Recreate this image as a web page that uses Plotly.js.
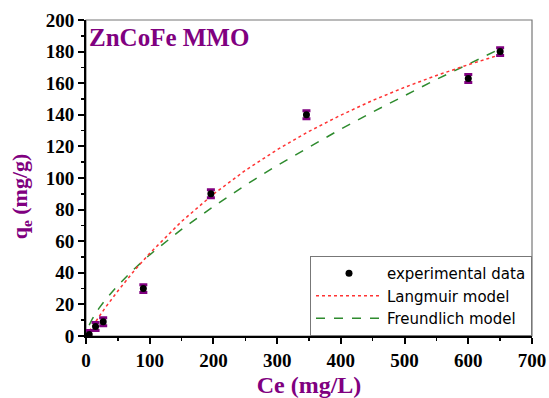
<!DOCTYPE html>
<html>
<head>
<meta charset="utf-8">
<script src="https://cdn.plot.ly/plotly-3.0.1.min.js"></script>
<style>html,body{margin:0;padding:0;background:#fff;}#chart{width:549px;height:398px;}</style>
</head>
<body>
<div id="chart"></div>
<script>
// experimental data
const expCe = [5, 15, 27, 90, 196, 346, 600, 650];
const expQe = [1, 6, 9, 30, 90, 140, 163, 180];
const expErr = [2.5, 2.5, 2.5, 2.5, 2.5, 2.5, 2.5, 2.5];
// model curves
const modelCe = [5, 10, 20, 30, 50, 75, 100, 150, 200, 250, 300, 350, 400, 450, 500, 550, 600, 650];
const langmuirQe = [3.1, 6.2, 12.1, 17.8, 28.5, 41.0, 52.3, 72.5, 89.8, 104.8, 117.9, 129.5, 139.8, 149.1, 157.4, 164.9, 171.7, 178.0];
const freundlichQe = [6.9, 10.9, 17.3, 22.7, 32.0, 42.2, 51.4, 67.5, 82.0, 95.4, 107.9, 119.7, 131.0, 141.8, 152.2, 162.4, 172.0, 181.8];

const serif = 'Liberation Serif, Times New Roman, serif';
const purple = '#800080';

const traces = [
  {x: modelCe, y: freundlichQe, mode: 'lines', name: 'Freundlich model',
   line: {color: '#2e8b2e', dash: 'dash', width: 1.5}},
  {x: modelCe, y: langmuirQe, mode: 'lines', name: 'Langmuir model',
   line: {color: '#ff3333', dash: 'dot', width: 1.5}},
  {x: expCe, y: expQe, mode: 'markers', name: 'experimental data',
   marker: {color: '#000', size: 7, symbol: 'circle'},
   error_y: {type: 'data', array: expErr, visible: true, color: purple, thickness: 3, width: 4}}
];

const layout = {
  width: 549, height: 398,
  margin: {l: 86, r: 17, t: 20, b: 62},
  paper_bgcolor: '#fff', plot_bgcolor: '#fff',
  showlegend: true,
  legend: {
    traceorder: 'reversed',
    x: 1, y: 0, xanchor: 'right', yanchor: 'bottom',
    bgcolor: '#fff', bordercolor: '#777', borderwidth: 1,
    font: {family: 'DejaVu Sans, Arial, sans-serif', size: 15, color: '#000'},
    itemwidth: 66, tracegroupgap: 0
  },
  xaxis: {
    range: [0, 700], dtick: 100, tick0: 0,
    showgrid: false, zeroline: false,
    showline: true, linecolor: '#000', linewidth: 2,
    ticks: 'outside', ticklen: 6, tickwidth: 2, tickcolor: '#000',
    minor: {dtick: 50, ticklen: 3, tickwidth: 1.5, tickcolor: '#000', ticks: 'outside'},
    tickfont: {family: serif, size: 19, color: '#000', weight: 'bold'},
    title: {text: '<b>Ce (mg/L)</b>', font: {family: serif, size: 24, color: purple}, standoff: 6}
  },
  yaxis: {
    range: [0, 200], dtick: 20, tick0: 0,
    showgrid: false, zeroline: false,
    showline: true, linecolor: '#000', linewidth: 2,
    ticks: 'outside', ticklen: 6, tickwidth: 2, tickcolor: '#000',
    minor: {dtick: 10, ticklen: 3, tickwidth: 1.5, tickcolor: '#000', ticks: 'outside'},
    tickfont: {family: serif, size: 19, color: '#000', weight: 'bold'}
  },
  shapes: [
    {type: 'rect', xref: 'paper', yref: 'paper', x0: 0, x1: 1, y0: 0, y1: 1,
     line: {color: '#777', width: 1.2}, layer: 'below'}
  ],
  annotations: [
    {text: '<b>ZnCoFe MMO</b>', xref: 'paper', yref: 'paper', x: 0.003, y: 0.995,
     xanchor: 'left', yanchor: 'top', showarrow: false,
     font: {family: serif, size: 25, color: purple}},
    {text: '<b>q<sub>e</sub> (mg/g)</b>', xref: 'paper', yref: 'paper',
     x: -0.145, y: 0.443, xanchor: 'center', yanchor: 'middle', textangle: -90,
     showarrow: false, font: {family: serif, size: 22, color: purple}}
  ]
};

Plotly.newPlot('chart', traces, layout, {displayModeBar: false, staticPlot: true});
</script>
</body>
</html>
